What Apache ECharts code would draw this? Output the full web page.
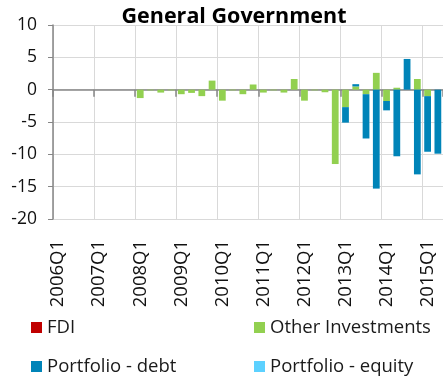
<!DOCTYPE html>
<html><head><meta charset="utf-8">
<script src="https://cdn.jsdelivr.net/npm/echarts@6/dist/echarts.min.js"></script>
<style>html,body{margin:0;padding:0;background:#fff}#c{width:443px;height:383px}</style>
</head><body><div id="c"></div>
<script>
const years = [2006,2007,2008,2009,2010,2011,2012,2013,2014,2015];
const categories = [];
years.forEach(y => [1,2,3,4].forEach(q => { if (!(y === 2015 && q > 2)) categories.push(y + 'Q' + q); }));
const fdi = new Array(38).fill(0);
const otherInvestments = [0,0,0,0, 0,0,0,0,
  -1.3,-0.1,-0.45,-0.1, -0.7,-0.5,-1.0,1.4, -1.7,-0.1,-0.7,0.8, -0.45,-0.1,-0.45,1.65,
  -1.7,-0.1,-0.4,-11.5, -2.7,0.5,-0.7,2.6, -1.75,0.3,0,1.65, -1.0,0];
const portfolioDebt = [0,0,0,0, 0,0,0,0,
  0,0,0,0, 0,0,0,0, 0,0,0,0, 0,0,0,0,
  0,0,0,0, -2.4,0.35,-6.85,-15.3, -1.45,-10.3,4.75,-13.1, -8.6,-9.9];
const portfolioEquity = new Array(38).fill(0);
const yTicks = {min:-20, max:10, interval:5};

const FONT = '"Open Sans"';
const chart = echarts.init(document.getElementById('c'), null, {renderer:'canvas'});
function bar(name, data, color){
  return {name, type:'bar', stack:'s', data, barWidth:'66%', xAxisIndex:0,
    itemStyle:{color}, emphasis:{disabled:true}};
}
function leg(name, color, left, top){
  return {data:[{name, itemStyle:{color}}], left, top, itemWidth:11, itemHeight:11, itemGap:0,
    icon:'rect', textStyle:{fontFamily:FONT, fontSize:18.5, color:'#1a1a1a'}, padding:0};
}
chart.setOption({
  animation:false,
  title:{text:'General Government', left:229, textAlign:'center', top:1,
    textStyle:{fontFamily:FONT, fontWeight:'bold', fontSize:21.5, color:'#000'}},
  legend:[
    leg('FDI', '#C00000', 31, 318),
    leg('Other Investments', '#92D050', 254, 318),
    leg('Portfolio - debt', '#0084B8', 31, 357),
    leg('Portfolio - equity', '#5CD1FF', 254, 357)
  ],
  grid:{left:53, top:25, right:-1, bottom:164, containLabel:false},
  xAxis:[
    {type:'category', data:categories, boundaryGap:true,
     axisLine:{onZero:true, lineStyle:{color:'#868686', width:1.5}},
     axisTick:{show:true, interval:3, length:7, lineStyle:{color:'#868686', width:1.5}},
     axisLabel:{show:false},
     splitLine:{show:true, interval:3, lineStyle:{color:'#D9D9D9', width:1}}},
    {type:'category', data:categories, boundaryGap:true, position:'bottom',
     axisLine:{show:false, onZero:false}, axisTick:{show:false},
     axisLabel:{show:true, interval:3, rotate:90, margin:21,
       fontFamily:FONT, fontSize:18.5, color:'#111'}}
  ],
  yAxis:{type:'value', min:yTicks.min, max:yTicks.max, interval:yTicks.interval,
    axisLine:{show:true, lineStyle:{color:'#868686', width:1.5}},
    axisTick:{show:true, length:5, lineStyle:{color:'#868686'}},
    axisLabel:{fontFamily:FONT, fontSize:17.5, color:'#111', margin:16},
    splitLine:{lineStyle:{color:'#D9D9D9'}}},
  series:[
    bar('FDI', fdi, '#C00000'),
    bar('Other Investments', otherInvestments, '#92D050'),
    bar('Portfolio - debt', portfolioDebt, '#0084B8'),
    bar('Portfolio - equity', portfolioEquity, '#5CD1FF')
  ]
});
</script></body></html>
